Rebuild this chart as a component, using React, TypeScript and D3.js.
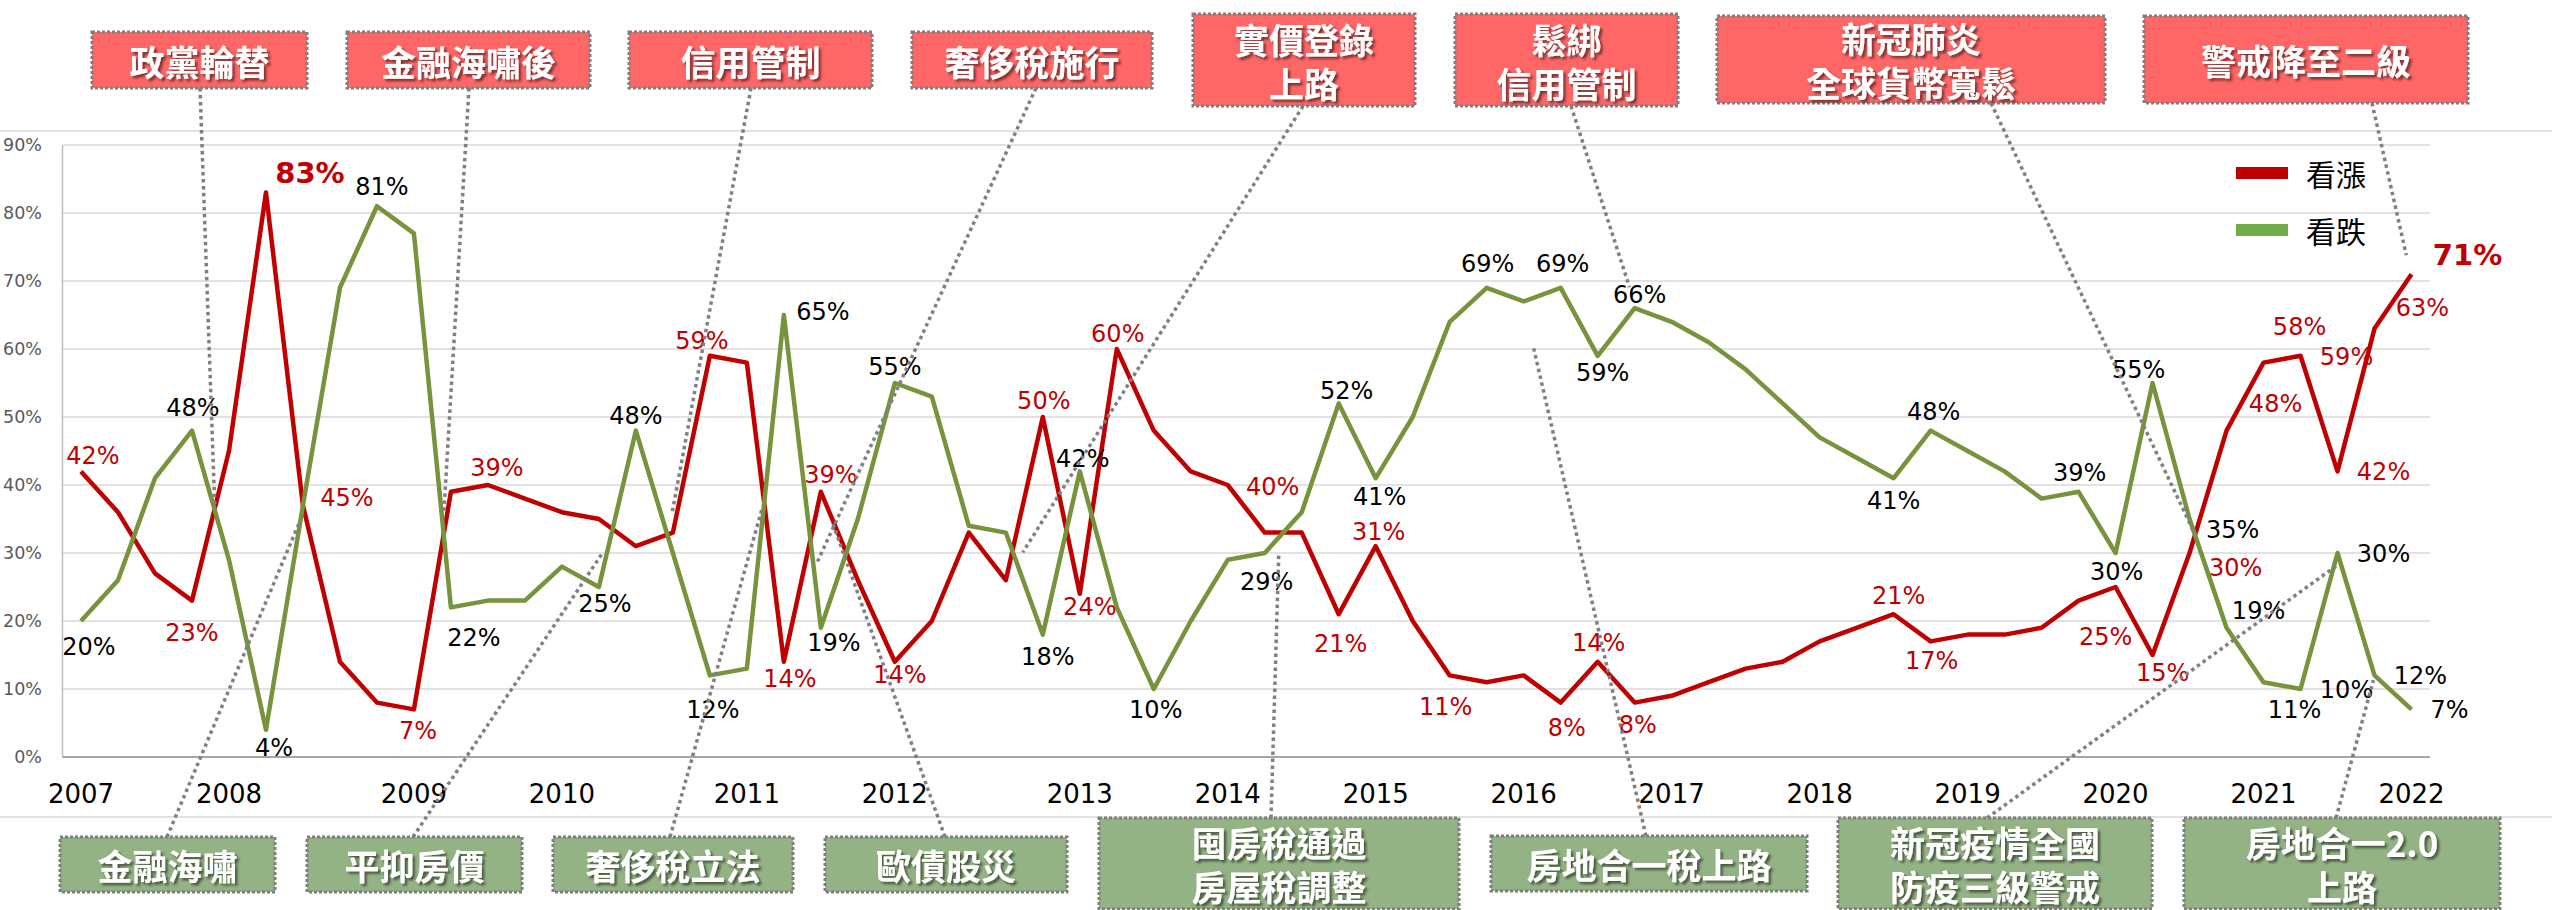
import React from 'react';
import * as d3 from 'd3';

const W = 2552;
const H = 910;

// ---------- data ----------
const seriesNames = ['看漲', '看跌'];
const yearLabels = ['2007','2008','2009','2010','2011','2012','2013','2014','2015','2016','2017','2018','2019','2020','2021','2022'];
const yearLabelIndex = [0, 4, 9, 13, 18, 22, 27, 31, 35, 39, 43, 47, 51, 55, 59, 63];
const yTicks = [0, 10, 20, 30, 40, 50, 60, 70, 80, 90];

// 看漲 (bullish) %
const bullish = [
  42, 36, 27, 23, 45, 83, 37, 14, 8, 7,
  39, 40, 38, 36, 35, 31, 33, 59, 58, 14,
  39, 26, 14, 20, 33, 26, 50, 24, 60, 48,
  42, 40, 33, 33, 21, 31, 20, 12, 11, 12,
  8, 14, 8, 9, 11, 13, 14, 17, 19, 21,
  17, 18, 18, 19, 23, 25, 15, 30, 48, 58,
  59, 42, 63, 71,
];
// 看跌 (bearish) %
const bearish = [
  20, 26, 41, 48, 29, 4, 37, 69, 81, 77,
  22, 23, 23, 28, 25, 48, 30, 12, 13, 65,
  19, 35, 55, 53, 34, 33, 18, 42, 22, 10,
  20, 29, 30, 36, 52, 41, 50, 64, 69, 67,
  69, 59, 66, 64, 61, 57, 52, 47, 44, 41,
  48, 45, 42, 38, 39, 30, 55, 35, 19, 11,
  10, 30, 12, 7,
];

// event annotation texts
const topEventTexts = [
  ['政黨輪替'], ['金融海嘯後'], ['信用管制'], ['奢侈稅施行'],
  ['實價登錄', '上路'], ['鬆綁', '信用管制'], ['新冠肺炎', '全球貨幣寬鬆'], ['警戒降至二級'],
];
const bottomEventTexts = [
  ['金融海嘯'], ['平抑房價'], ['奢侈稅立法'], ['歐債股災'],
  ['囤房稅通過', '房屋稅調整'], ['房地合一稅上路'], ['新冠疫情全國', '防疫三級警戒'], ['房地合一2.0', '上路'],
];

// ---------- layout ----------
// data-label placement: [index, dx, dy]
const bullishLabelLayout: [number, number, number][] = [
  [0, 12, -15], [3, 0, 32], [4, 118, 47], [9, 4, 22], [10, 46, -24],
  [17, -8, -15], [19, 6, 17], [20, 10, -17], [22, 5, 13], [26, 1, -16],
  [27, 10, 13], [28, 1, -15], [31, 45, 2], [34, 2, 30], [35, 3, -14],
  [38, -41, 25], [40, 6, 25], [41, 1, -19], [42, 3, 22], [49, 5, -18],
  [50, 1, 20], [55, -10, 50], [56, 10, 18], [57, 46, 15], [58, 49, -27],
  [59, 36, -36], [60, 46, 1], [61, 46, 1], [62, 48, -21],
];
const bullishBigLabelLayout: [number, number, number][] = [[5, 44, -20], [63, 56, -19]];
const bearishLabelLayout: [number, number, number][] = [
  [0, 8, 26], [3, 1, -23], [5, 8, 18], [8, 5, -19], [10, 23, 31],
  [14, 6, 17], [15, 0, -15], [17, 3, 35], [19, 39, -3], [20, 13, 15],
  [22, 0, -16], [26, 5, 22], [27, 3, -12], [29, 2, 21], [31, 39, 22],
  [34, 8, -12], [35, 4, 19], [38, 1, -24], [40, 2, -24], [41, 5, 17],
  [42, 5, -13], [49, 0, 23], [50, 3, -19], [54, 1, -19], [55, 1, 19],
  [56, -14, -13], [57, 43, 11], [58, 32, -17], [59, 31, 28], [60, 46, 1],
  [61, 46, 1], [62, 46, 1], [63, 38, 1],
];

// boxes: [x0, y0, x1, y1], leader start x on box edge, leader end [index, pct]
const topBoxLayout = [
  { box: [92, 32, 307, 88], ax: 200, to: [3.62, 36.3] },
  { box: [347, 32, 590, 88], ax: 469, to: [9.81, 36.0] },
  { box: [629, 32, 872, 88], ax: 751, to: [15.97, 35.6] },
  { box: [912, 32, 1152, 88], ax: 1036, to: [19.89, 28.5] },
  { box: [1193, 14, 1415, 106], ax: 1303, to: [25.46, 30.1] },
  { box: [1455, 14, 1678, 106], ax: 1571, to: [41.86, 69.1] },
  { box: [1717, 16, 2105, 103], ax: 1991, to: [57.16, 32.6] },
  { box: [2144, 16, 2468, 103], ax: 2372, to: [62.86, 73.8] },
];
const bottomBoxLayout = [
  { box: [60, 837, 275, 892], ax: 167, to: [5.92, 34.7] },
  { box: [307, 837, 522, 892], ax: 413, to: [14.11, 30.1] },
  { box: [553, 837, 793, 892], ax: 670, to: [18.4, 36.3] },
  { box: [825, 837, 1067, 892], ax: 945, to: [20.32, 34.4] },
  { box: [1099, 818, 1459, 909], ax: 1271, to: [32.38, 30.1] },
  { box: [1491, 836, 1807, 891], ax: 1646, to: [39.27, 60.1] },
  { box: [1838, 818, 2152, 909], ax: 1987, to: [60.99, 28.2] },
  { box: [2184, 818, 2500, 909], ax: 2336, to: [61.97, 11.3] },
];

const RED = '#C00000';
const GREEN = '#77933C';
const LEGEND_COLORS = ['#C00000', '#70AD47'];
const TOP_FILL = '#FF6666';
const BOTTOM_FILL = '#94B384';
const NUM_FONT = '"DejaVu Sans", sans-serif';
const CJK_FONT = '"Noto Sans CJK TC", "Noto Sans CJK SC", sans-serif';

const plot = { left: 62.5, right: 2430, top: 145, bottom: 757 };

export default function App() {
  const n = bullish.length;
  const xBand = d3.scaleBand<number>().domain(d3.range(n)).range([plot.left, plot.right]).padding(0);
  const xc = (i: number) => (xBand(i) as number) + xBand.bandwidth() / 2;
  const xf = d3.scaleLinear().domain([-0.5, n - 0.5]).range([plot.left, plot.right]);
  const y = d3.scaleLinear().domain([0, 90]).range([plot.bottom, plot.top]);

  const line = d3.line<number>().x((_, i) => xc(i)).y((d) => y(d));

  const renderBox = (
    lines: string[], b: number[], fill: string, key: string
  ) => {
    const [x0, y0, x1, y1] = b;
    const cx = (x0 + x1) / 2;
    const cy = (y0 + y1) / 2;
    const lh = 44;
    return (
      <g key={key}>
        <rect x={x0} y={y0} width={x1 - x0} height={y1 - y0} fill={fill}
          stroke="#7F7F7F" strokeWidth={3} strokeDasharray="3 2" />
        {lines.map((t, k) => (
          <text key={k} x={cx} y={cy + (k - (lines.length - 1) / 2) * lh}
            textAnchor="middle" dominantBaseline="central" fill="#fff"
            fontFamily={CJK_FONT} fontSize={35} fontWeight="bold" filter="url(#tshadow)">{t}</text>
        ))}
      </g>
    );
  };

  return (
    <svg width={W} height={H} viewBox={`0 0 ${W} ${H}`}
      style={{ position: 'absolute', left: 0, top: 0, background: '#fff' }}>
      <defs>
        <filter id="tshadow" x="-10%" y="-30%" width="130%" height="160%">
          <feDropShadow dx="2.5" dy="2.5" stdDeviation="1.2" floodColor="#000" floodOpacity="0.5" />
        </filter>
      </defs>
      <rect x={0} y={0} width={W} height={H} fill="#fff" />

      {/* chart frame lines */}
      <line x1={0} x2={W} y1={131} y2={131} stroke="#D9D9D9" strokeWidth={1.5} />
      <line x1={0} x2={W} y1={817} y2={817} stroke="#D9D9D9" strokeWidth={1.5} />

      {/* gridlines & y axis */}
      {yTicks.map((t) => (
        <g key={t}>
          {t > 0 && (
            <line x1={plot.left} x2={plot.right} y1={y(t)} y2={y(t)} stroke="#D9D9D9" strokeWidth={1.5} />
          )}
          <text x={42} y={y(t)} textAnchor="end" dominantBaseline="central"
            fontFamily={NUM_FONT} fontSize={17.5} fill="#595959">{`${t}%`}</text>
        </g>
      ))}
      <line x1={plot.left} x2={plot.left} y1={plot.top} y2={plot.bottom} stroke="#BFBFBF" strokeWidth={1.5} />
      <line x1={plot.left} x2={plot.right} y1={plot.bottom} y2={plot.bottom} stroke="#A6A6A6" strokeWidth={2} />

      {/* x labels */}
      {yearLabels.map((lab, k) => (
        <text key={lab} x={xc(yearLabelIndex[k])} y={794} textAnchor="middle" dominantBaseline="central"
          fontFamily={NUM_FONT} fontSize={26} fill="#000">{lab}</text>
      ))}

      {/* series */}
      <path d={line(bullish) || ''} fill="none" stroke={RED} strokeWidth={4.5} strokeLinejoin="round" />
      <path d={line(bearish) || ''} fill="none" stroke={GREEN} strokeWidth={4.5} strokeLinejoin="round" />

      {/* data labels */}
      {bullishLabelLayout.map(([i, dx, dy]) => (
        <text key={'b' + i} x={xc(i) + dx} y={y(bullish[i]) + dy} textAnchor="middle" dominantBaseline="central"
          fontFamily={NUM_FONT} fontSize={24} fill={RED}>{`${bullish[i]}%`}</text>
      ))}
      {bullishBigLabelLayout.map(([i, dx, dy]) => (
        <text key={'bb' + i} x={xc(i) + dx} y={y(bullish[i]) + dy} textAnchor="middle" dominantBaseline="central"
          fontFamily={NUM_FONT} fontSize={29} fontWeight="bold" fill={RED}>{`${bullish[i]}%`}</text>
      ))}
      {bearishLabelLayout.map(([i, dx, dy]) => (
        <text key={'s' + i} x={xc(i) + dx} y={y(bearish[i]) + dy} textAnchor="middle" dominantBaseline="central"
          fontFamily={NUM_FONT} fontSize={24} fill="#000">{`${bearish[i]}%`}</text>
      ))}

      {/* legend */}
      {seriesNames.map((name, k) => (
        <g key={name}>
          <rect x={2236} y={167 + k * 57} width={52} height={12} fill={LEGEND_COLORS[k]} />
          <text x={2306} y={173 + k * 57} dominantBaseline="central" fontFamily={CJK_FONT} fontSize={30} fill="#000">{name}</text>
        </g>
      ))}

      {/* leader lines */}
      {topBoxLayout.map((L, k) => (
        <line key={'tl' + k} x1={L.ax} y1={L.box[3]} x2={xf(L.to[0])} y2={y(L.to[1])}
          stroke="#808080" strokeWidth={3.5} strokeDasharray="3.5 3.5" />
      ))}
      {bottomBoxLayout.map((L, k) => (
        <line key={'bl' + k} x1={L.ax} y1={L.box[1]} x2={xf(L.to[0])} y2={y(L.to[1])}
          stroke="#808080" strokeWidth={3.5} strokeDasharray="3.5 3.5" />
      ))}

      {/* event boxes */}
      {topBoxLayout.map((L, k) => renderBox(topEventTexts[k], L.box, TOP_FILL, 't' + k))}
      {bottomBoxLayout.map((L, k) => renderBox(bottomEventTexts[k], L.box, BOTTOM_FILL, 'b' + k))}
    </svg>
  );
}
